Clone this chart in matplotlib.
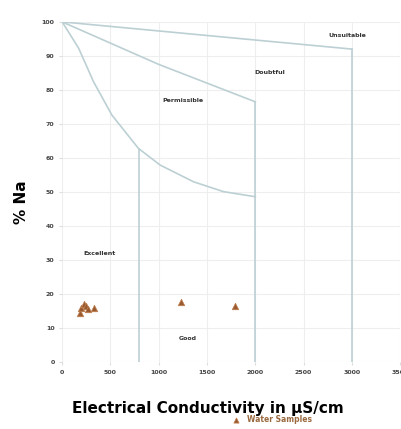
import matplotlib.pyplot as plt
import numpy as np

# Wilcox diagram boundaries (EC in uS/cm, % Na)
unsuitable_ec = [0, 3000]
unsuitable_na = [100, 92]
doubtful_ec = [0, 1000, 2000]
doubtful_na = [100, 87.5, 76.5]
permissible_ec = [0, 170, 325, 515, 790, 1015, 1360, 1670, 2000]
permissible_na = [100, 92.3, 82.4, 72.6, 62.8, 57.9, 53.0, 50.1, 48.6]
# vertical class limits and their tops
limit_ec = [800, 2000, 3000]
limit_top = [62.5, 76.5, 92]

# samples
sample_ec = [180, 200, 230, 250, 270, 330, 1230, 1790]
sample_na = [14.5, 16.0, 17.0, 16.5, 15.5, 16.0, 17.6, 16.5]

zones = ["Unsuitable", "Doubtful", "Permissible", "Excellent", "Good"]
zone_x = [2950, 2150, 1250, 390, 1300]
zone_y = [96, 85, 77, 32, 7]

line_col = "#bcd0d4"

fig = plt.figure(figsize=(4.01, 4.29), dpi=100)
ax = fig.add_axes([0.155, 0.156, 0.843, 0.793])

ax.plot(unsuitable_ec, unsuitable_na, color=line_col, lw=1.2)
ax.plot(doubtful_ec, doubtful_na, color=line_col, lw=1.2)
ax.plot(permissible_ec, permissible_na, color=line_col, lw=1.2)
for x, top in zip(limit_ec, limit_top):
    ax.plot([x, x], [0, top], color=line_col, lw=1.2)

ax.scatter(sample_ec, sample_na, marker="^", s=22, color="#9a5a30",
           edgecolors="#c08050", linewidths=0.5, zorder=3, label="Water Samples")

for name, x, y in zip(zones, zone_x, zone_y):
    ax.text(x, y, name, fontsize=4.5, fontweight="bold", color="#333333",
            ha="center", va="center")

ax.set_xlim(0, 3500)
ax.set_ylim(0, 100)
ax.set_xticks(np.arange(0, 3501, 500))
ax.set_yticks(np.arange(0, 101, 10))
ax.tick_params(labelsize=4.5, length=2, color="#dddddd", labelcolor="#444444")
for lab in ax.get_xticklabels() + ax.get_yticklabels():
    lab.set_fontweight("bold")
ax.grid(True, color="#eeeeee", lw=0.8)
for s in ax.spines.values():
    s.set_visible(False)

ax.set_xlabel("Electrical Conductivity in µS/cm", fontsize=11, fontweight="bold")
ax.xaxis.set_label_coords(0.43, -0.115)
ax.set_ylabel("% Na", fontsize=11, fontweight="bold")
ax.yaxis.set_label_coords(-0.097, 0.47)

leg = fig.legend(loc="center", bbox_to_anchor=(0.673, 0.021), frameon=False,
                 fontsize=5.5, handletextpad=0.4, markerscale=0.8)
for t in leg.get_texts():
    t.set_color("#9a6a40")
    t.set_fontweight("bold")

fig.savefig("out.png", dpi=100)
